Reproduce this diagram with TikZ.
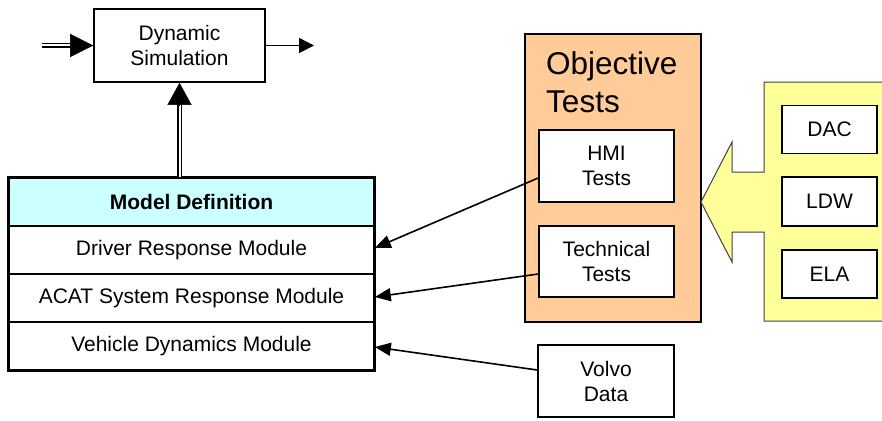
\documentclass[tikz,border=0pt]{standalone}
\usepackage{fontspec}
\setmainfont{Liberation Sans}
\usetikzlibrary{arrows.meta, calc}
\definecolor{hdrcyan}{HTML}{CCFFFF}
\definecolor{testorange}{HTML}{FFCC99}
\definecolor{featyellow}{HTML}{FFFF99}

\begin{document}
\begin{tikzpicture}[x = 1pt, y = -1pt,
		txt/.style = {font = \fontsize{21}{25}\selectfont, align = center, inner sep = 0pt},
		box/.style = {txt, draw, line width = 1.6pt, fill = white},
		row/.style = {box, minimum width = 365pt, minimum height = 48pt},
		link/.style = {line width = 1.6pt, -{Triangle[length = 16pt, width = 13pt]}},
		dbl/.style = {double, double distance = 2pt, line width = 1.6pt, shorten > = 20pt}]
				\useasboundingbox (0, 0) rectangle (882, 420);
				% simulation block
				\node[box, minimum width = 171pt, minimum height = 73pt] (sim) at (179.5, 45.5) {Dynamic\\Simulation};
				\coordinate (inp) at (42, 45.5);
				\coordinate (outp) at (314, 45.5);
				\draw[dbl] (inp) -- (sim.west);
				\draw[-{Triangle[length = 23pt, width = 23pt]}] ($(sim.west) + (-23, 0)$) -- (sim.west);
				\draw[line width = 1.6pt, -{Triangle[length = 15pt, width = 15pt]}] (sim.east) -- (outp);
				% model definition
				\node[row, fill = hdrcyan, font = \fontsize{21}{25}\selectfont\bfseries] (hdr) at (191.5, 202) {Model Definition};
				\node[row] (drv) at (191.5, 250) {Driver Response Module};
				\node[row] (acat) at (191.5, 298) {ACAT System Response Module};
				\node[row] (veh) at (191.5, 346) {Vehicle Dynamics Module};
				\draw[line width = 3pt] (hdr.north west) rectangle (veh.south east);
				\draw[dbl] (hdr.north -| sim) -- (sim.south);
				\draw[-{Triangle[length = 22pt, width = 24pt]}] ($(sim.south) + (0, 23)$) -- (sim.south);
				% objective tests
				\node[draw, line width = 1.4pt, fill = testorange, minimum width = 176pt, minimum height = 288pt] (obj) at (613, 178) {};
				\node[txt, font = \fontsize{31.5}{38}\selectfont, align = left, anchor = north west] (objt) at (546, 51) {Objective\\Tests};
				\node[box, minimum width = 135pt, minimum height = 72pt] (hmi) at (606.5, 166) {HMI\\Tests};
				\node[box, minimum width = 135pt, minimum height = 71pt] (tech) at (606.5, 261.5) {Technical\\Tests};
				\node[box, minimum width = 136pt, minimum height = 72pt] (volvo) at (606, 381) {Volvo\\Data};
				% functions feeding the tests
				\filldraw[fill = featyellow, draw = black!75, line width = 1pt]
					(883, 82) -- (764, 82) -- (764, 172) -- (732, 172) -- (732, 142) -- (701, 202)
					-- (732, 262) -- (732, 232) -- (764, 232) -- (764, 321) -- (883, 321);
				\node[box, minimum width = 95pt, minimum height = 48pt] (dac) at (829.5, 129.5) {DAC};
				\node[box, minimum width = 95pt, minimum height = 49pt] (ldw) at (829.5, 201.5) {LDW};
				\node[box, minimum width = 95pt, minimum height = 48pt] (ela) at (829.5, 274) {ELA};
				% inputs to the modules
				\draw[link] (hmi.west |- 0, 178) -- (drv.east |- 0, 248);
				\draw[link] (tech.west |- 0, 274) -- (acat.east |- 0, 297);
				\draw[link] (volvo.west |- 0, 370) -- (veh.east |- 0, 347);
			\end{tikzpicture}
\end{document}
